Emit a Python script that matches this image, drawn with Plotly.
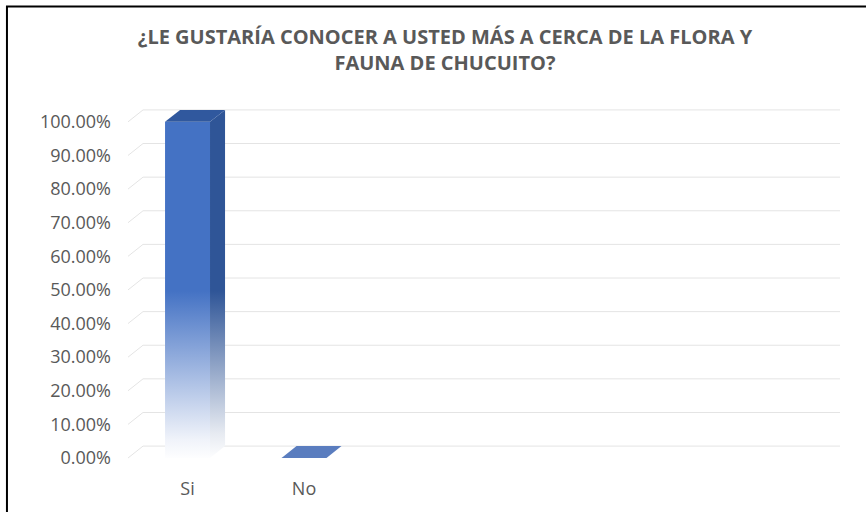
import plotly.graph_objects as go

# data
categories = ["Si", "No"]
values = [1.0, 0.0]
y_ticks = [0.0, 0.1, 0.2, 0.3, 0.4, 0.5, 0.6, 0.7, 0.8, 0.9, 1.0]
title_text = "¿LE GUSTARÍA CONOCER A USTED MÁS A CERCA DE LA FLORA Y<br>FAUNA DE CHUCUITO?"

# fake 3d depth (data units)
DX = 0.129
DY = 0.0355
HALF_W = 0.193
X_RANGE = [-0.511, 5.601]
Y_RANGE = [-0.0178, 1.065]

FRONT = "#4472C4"
SIDE = "#2F5597"
GRID = "#E4E4E4"
TEXT = "#595959"

fig = go.Figure()

# back wall gridlines with the little floor diagonal on the left
gx, gy = [], []
for t in y_ticks:
    gx += [X_RANGE[0], X_RANGE[0] + DX, X_RANGE[1], None]
    gy += [t, t + DY, t + DY, None]
fig.add_trace(go.Scatter(x=gx, y=gy, mode="lines", line=dict(color=GRID, width=1),
                         hoverinfo="skip", showlegend=False))

for i, (cat, v) in enumerate(zip(categories, values)):
    x0, x1 = i - HALF_W, i + HALF_W
    if v > 0:
        # front face
        fig.add_trace(go.Scatter(
            x=[x0, x1, x1, x0, x0], y=[0, 0, v, v, 0],
            mode="lines", fill="toself", line=dict(width=0),
            fillgradient=dict(type="vertical", start=0, stop=v,
                              colorscale=[[0, "rgba(255,255,255,1)"], [0.06, "#F0F3FA"],
                                          [0.5, FRONT], [1, FRONT]]),
            hoverinfo="skip", showlegend=False))
        # side face
        fig.add_trace(go.Scatter(
            x=[x1, x1 + DX, x1 + DX, x1, x1], y=[0, DY, v + DY, v, 0],
            mode="lines", fill="toself", line=dict(width=0),
            fillgradient=dict(type="vertical", start=0, stop=v,
                              colorscale=[[0, "rgba(255,255,255,1)"], [0.08, "#E6EAF1"],
                                          [0.5, SIDE], [1, SIDE]]),
            hoverinfo="skip", showlegend=False))
        top_color = "#30589E"
    else:
        top_color = "#5A7DBF"
    # top face
    fig.add_trace(go.Scatter(
        x=[x0, x1, x1 + DX, x0 + DX, x0], y=[v, v, v + DY, v + DY, v],
        mode="lines", fill="toself", fillcolor=top_color, line=dict(width=0),
        hoverinfo="skip", showlegend=False))

# chart border (top + left only, like the screenshot)
fig.add_shape(type="path", xref="paper", yref="paper",
              path="M -0.170 -0.2 L -0.170 1.2568 L 1.0365 1.2568",
              line=dict(color="black", width=2))

fig.update_layout(
    width=867, height=512,
    margin=dict(l=128, r=27, t=100, b=46),
    paper_bgcolor="white", plot_bgcolor="white",
    font=dict(family="Open Sans, sans-serif", color=TEXT),
    title=dict(text=title_text, x=445 / 867, xref="container", xanchor="center",
               y=1 - 44 / 512, yref="container", yanchor="top",
               font=dict(size=20, color=TEXT, family="Open Sans, sans-serif", weight="bold")),
    showlegend=False,
    xaxis=dict(range=X_RANGE, tickvals=list(range(len(categories))), ticktext=categories,
               showgrid=False, zeroline=False, showline=False, ticks="",
               ticklabelstandoff=12, tickfont=dict(size=18, color=TEXT)),
    yaxis=dict(range=Y_RANGE, tickvals=y_ticks, tickformat=".2%",
               showgrid=False, zeroline=False, showline=False, ticks="",
               ticklabelstandoff=16, tickfont=dict(size=18, color=TEXT)),
)

# the page body has a default 8px margin; drop it so the figure sits at 0,0
fig.write_html("out.html", config={"displayModeBar": False},
               post_script="document.body.style.margin='0';")
